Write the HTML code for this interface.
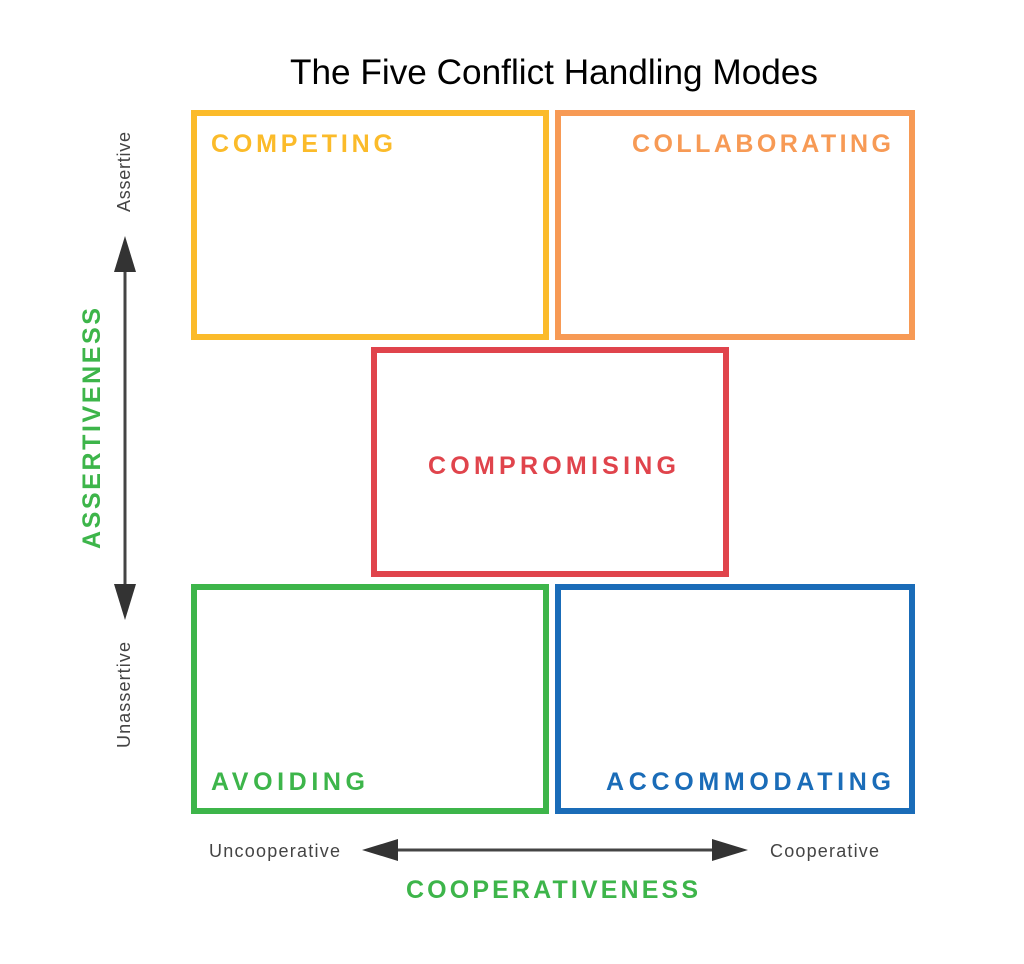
<!DOCTYPE html>
<html><head><style>body{margin:0;background:#fff}svg{display:block}</style></head><body>
<svg width="1024" height="964" xmlns="http://www.w3.org/2000/svg" font-family="Liberation Sans, sans-serif">
<text x="290" y="84" font-size="35" textLength="528" lengthAdjust="spacingAndGlyphs" fill="#000">The Five Conflict Handling Modes</text>
<g fill="none" stroke-width="6">
<rect x="194" y="113" width="352" height="224" stroke="#fbbb2a"/>
<rect x="558" y="113" width="354" height="224" stroke="#f79a55"/>
<rect x="374" y="350" width="352" height="224" stroke="#e0444c"/>
<rect x="194" y="587" width="352" height="224" stroke="#3db54a"/>
<rect x="558" y="587" width="354" height="224" stroke="#1a6cb8"/>
</g>
<g font-weight="bold" font-size="25" lengthAdjust="spacingAndGlyphs">
<text x="211" y="152" fill="#fbbb2a" textLength="186" letter-spacing="4">COMPETING</text>
<text x="632" y="152" fill="#f79a55" textLength="263" letter-spacing="4">COLLABORATING</text>
<text x="428" y="474" fill="#e0444c" textLength="252" letter-spacing="4">COMPROMISING</text>
<text x="211" y="790" fill="#3db54a" textLength="158" letter-spacing="4">AVOIDING</text>
<text x="606" y="790" fill="#1a6cb8" textLength="289" letter-spacing="4">ACCOMMODATING</text>
<text x="406" y="898" fill="#3db54a" textLength="296" letter-spacing="4">COOPERATIVENESS</text>
<text transform="translate(100,549) rotate(-90)" fill="#3db54a" textLength="245" letter-spacing="4">ASSERTIVENESS</text>
</g>
<g font-size="18" fill="#444" lengthAdjust="spacingAndGlyphs">
<text transform="translate(130,212) rotate(-90)" textLength="80">Assertive</text>
<text transform="translate(130,748) rotate(-90)" textLength="106">Unassertive</text>
<text x="209" y="857" textLength="131">Uncooperative</text>
<text x="770" y="857" textLength="109">Cooperative</text>
</g>
<g fill="#333" stroke="#444" stroke-width="3">
<line x1="125" y1="265" x2="125" y2="590"/>
<line x1="380" y1="850" x2="730" y2="850"/>
</g>
<g fill="#333">
<polygon points="125,236 114,272 136,272"/>
<polygon points="125,620 114,584 136,584"/>
<polygon points="362,850 398,839 398,861"/>
<polygon points="748,850 712,839 712,861"/>
</g>
</svg>
</body></html>
